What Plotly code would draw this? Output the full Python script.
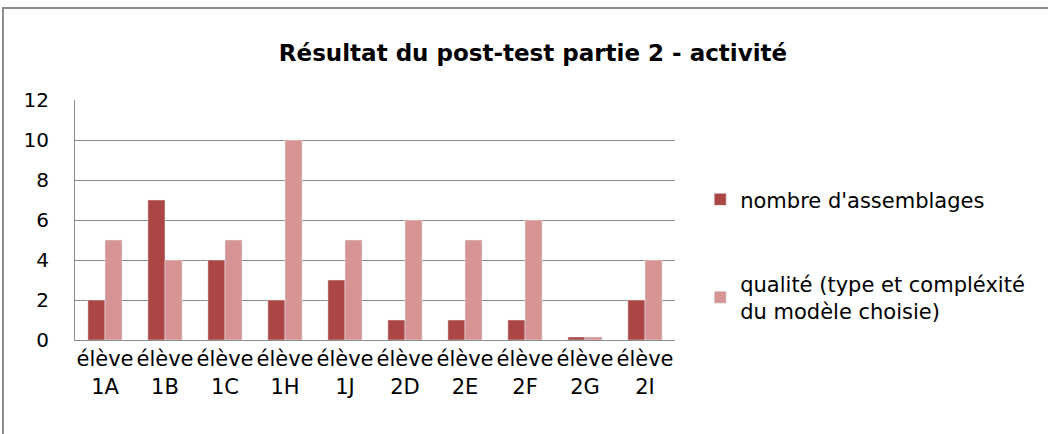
from plotly import graph_objects as go

categories = ["élève<br>1A", "élève<br>1B", "élève<br>1C", "élève<br>1H", "élève<br>1J",
              "élève<br>2D", "élève<br>2E", "élève<br>2F", "élève<br>2G", "élève<br>2I"]
nombre = [2, 7, 4, 2, 3, 1, 1, 1, 0.15, 2]
qualite = [5, 4, 5, 10, 5, 6, 5, 6, 0.15, 4]
y_ticks = [0, 2, 4, 6, 8, 10, 12]

font = "DejaVu Sans"

fig = go.Figure()
fig.add_trace(go.Bar(
    x=categories, y=nombre,
    name="nombre d'assemblages",
    marker_color="#AA4644",
    legendgroup="a",
))
fig.add_trace(go.Bar(
    x=categories, y=qualite,
    name="qualité (type et compléxité<br>du modèle choisie)",
    marker_color="#D69594",
    legendgroup="b",
))

fig.update_yaxes(
    range=[0, 12],
    tickvals=y_ticks,
    showgrid=True,
    gridcolor="#8C8C8C",
    gridwidth=1,
    showline=True,
    linecolor="#8C8C8C",
    ticks="",
    ticklabelstandoff=21,
    tickfont=dict(family=font, size=20, color="black"),
)
fig.update_xaxes(
    showline=True,
    linecolor="#8C8C8C",
    tickfont=dict(family=font, size=21, color="black"),
    tickangle=0,
    ticklabelstandoff=0,
)

# outer chart frame (cropped on the right and bottom)
fig.add_shape(
    type="rect", xref="paper", yref="paper",
    x0=-0.12, x1=2, y0=-1, y1=1.383,
    line=dict(color="#8C8C8C", width=2),
    fillcolor="rgba(0,0,0,0)",
)

fig.update_layout(
    title=dict(
        text="<b>Résultat du post-test partie 2 - activité</b>",
        x=533 / 1048, xanchor="center",
        y=1 - 53 / 434, yanchor="middle",
        font=dict(family=font, size=23, color="black"),
    ),
    barmode="group",
    bargap=0.43,
    bargroupgap=0,
    width=1048,
    height=434,
    margin=dict(l=75, r=373, t=100, b=94),
    plot_bgcolor="white",
    paper_bgcolor="white",
    legend=dict(
        x=1.042, y=0.67, xanchor="left", yanchor="top",
        font=dict(family=font, size=21, color="black"),
        tracegroupgap=54,
        traceorder="grouped",
        itemwidth=30,
    ),
)

fig.write_html("out.html", config={"displayModeBar": False},
               post_script="document.body.style.margin='0';")
